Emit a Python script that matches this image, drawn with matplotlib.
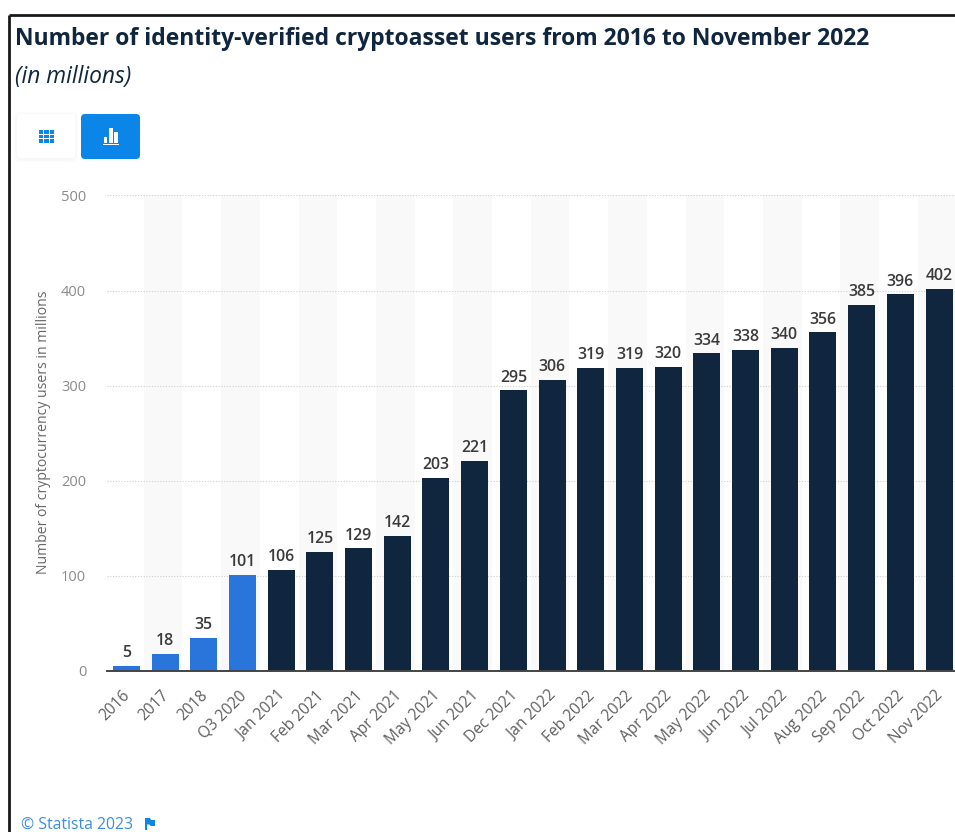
import matplotlib
matplotlib.use("Agg")
import matplotlib.pyplot as plt
from matplotlib.patches import FancyBboxPatch, Rectangle, Polygon
from matplotlib.transforms import ScaledTranslation

plt.rcParams["font.family"] = ["Open Sans", "DejaVu Sans"]

# Chart data
categories = ["2016", "2017", "2018", "Q3 2020", "Jan 2021", "Feb 2021", "Mar 2021",
              "Apr 2021", "May 2021", "Jun 2021", "Dec 2021", "Jan 2022", "Feb 2022",
              "Mar 2022", "Apr 2022", "May 2022", "Jun 2022", "Jul 2022", "Aug 2022",
              "Sep 2022", "Oct 2022", "Nov 2022"]
users = [5, 18, 35, 101, 106, 125, 129, 142, 203, 221, 295, 306, 319, 319, 320,
         334, 338, 340, 356, 385, 396, 402]
yticks = [0, 100, 200, 300, 400, 500]

DARK = "#10263f"
BLUE = "#2a75dc"
ACCENT = "#0b85e8"
W, H = 955, 832

fig = plt.figure(figsize=(W / 100, H / 100), dpi=100, facecolor="white")

# page layer in pixel coordinates: frame, headings, buttons, source
page = fig.add_axes([0, 0, 1, 1])
page.set_xlim(0, W)
page.set_ylim(H, 0)
page.axis("off")

page.plot([9, 9], [832, 15], color="#1a1a1a", lw=2, solid_capstyle="butt")
page.plot([9, 955], [15, 15], color="#1a1a1a", lw=2, solid_capstyle="butt")

page.text(15, 39, "Number of identity-verified cryptoasset users from 2016 to November 2022",
          fontsize=16.45, fontweight="bold", color=DARK, va="center", ha="left")
page.text(15, 77, "(in millions)", fontsize=16.4, style="italic", color=DARK, va="center", ha="left")

# view switch buttons
for grow, shade in [(3, "#fcfcfc"), (1.5, "#f8f8f8")]:
    page.add_patch(FancyBboxPatch((17 - grow, 114 - grow + 1), 58 + 2 * grow, 44 + 2 * grow,
                                  boxstyle="round,pad=0,rounding_size=5", fc=shade, ec="none"))
page.add_patch(FancyBboxPatch((17, 114), 58, 44, boxstyle="round,pad=0,rounding_size=4",
                              fc="white", ec="none"))
page.add_patch(FancyBboxPatch((81, 114), 59, 45, boxstyle="round,pad=0,rounding_size=4",
                              fc=ACCENT, ec="none"))
for col in range(3):
    for row in range(3):
        page.add_patch(Rectangle((38.5 + col * 5.6, 130 + row * 4.7), 4.6, 3.7, fc=ACCENT, ec="none"))
for x0, top, wid in [(103.5, 137, 3.8), (108.5, 128, 4), (114, 132, 4)]:
    page.add_patch(Rectangle((x0, top), wid, 142.5 - top, fc="white", ec="none"))
page.add_patch(Rectangle((103, 143.5), 16, 1.4, fc="white", ec="none"))

page.text(21, 825, "© Statista 2023", fontsize=11.4, color="#3d8ee0", va="center", ha="left")
page.add_patch(Rectangle((145, 817.5), 1.5, 12, fc=ACCENT, ec="none"))
page.add_patch(Polygon([(146.5, 818), (150, 818), (151, 820), (155, 820), (155, 826),
                        (150.5, 826), (149.5, 824.5), (146.5, 824.5)], fc=ACCENT, ec="none"))

# chart area runs off the right edge of the page
ax = fig.add_axes([107 / W, 1 - 671 / H, (W - 107) / W, (671 - 195.5) / H])
ax.patch.set_alpha(0)
x = list(range(len(categories)))
ax.set_xlim(-0.5, -0.5 + (W - 107) / 38.7)
ax.set_ylim(0, 500)

for i in x[1::2]:
    ax.axvspan(i - 0.55, i + 0.45, color="#f9f9f9", lw=0, zorder=0)
ax.set_yticks(yticks)
ax.grid(axis="y", color="#cfcfcf", ls=(0, (1, 1.5)), lw=0.8, zorder=1)
ax.grid(axis="x", visible=False)

colors = [BLUE] * 4 + [DARK] * (len(users) - 4)
ax.bar(x, users, width=0.7, color=colors, zorder=2)
for i, v in zip(x, users):
    ax.text(i, v + 5, str(v), ha="center", va="bottom", fontsize=11.4, color="#3a3a3a",
            fontweight="semibold", zorder=3)

ax.set_xticks(x)
ax.set_xticklabels(categories, rotation=45, ha="right", rotation_mode="anchor",
                   fontsize=11.2, color="#5f5f5f")
ax.tick_params(axis="x", length=0, pad=12)
ax.tick_params(axis="y", length=0, pad=15, labelsize=10.5, labelcolor="#8a8a8a")
# nudge the slanted labels left so they end under the bar centres
shift = ScaledTranslation(-4 / 100, 0, fig.dpi_scale_trans)
for lab in ax.get_xticklabels():
    lab.set_transform(lab.get_transform() + shift)

ax.set_ylabel("Number of cryptocurrency users in millions", fontsize=10.1, color="#666666")
ax.yaxis.set_label_coords(-56 / (W - 107), 0.503)

for side in ["top", "right", "left"]:
    ax.spines[side].set_visible(False)
ax.spines["bottom"].set_color("#444444")
ax.spines["bottom"].set_linewidth(1.4)
ax.spines["bottom"].set_zorder(4)

fig.savefig("out.png", dpi=100)
